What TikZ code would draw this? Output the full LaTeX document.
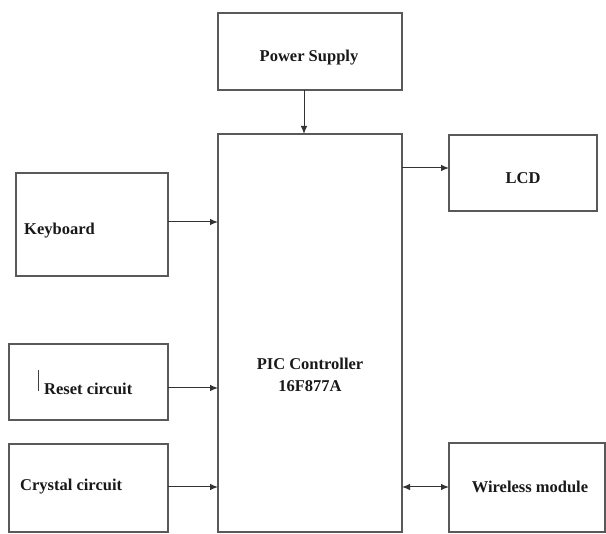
\documentclass[tikz,border=0pt]{standalone}
\usepackage{fontspec}
\setmainfont{Liberation Serif}
\usetikzlibrary{arrows.meta}
\tikzset{
  blk/.style={draw=black!65, line width=1.3pt, fill=white},
  lbl/.style={font=\fontsize{16.5}{20}\selectfont\bfseries, text=black!90, inner sep=0pt},
  conn/.style={draw=black!80, line width=1pt, -{Latex[length=8pt,width=6.5pt]}},
  conn2/.style={draw=black!80, line width=1pt, {Latex[length=8pt,width=6.5pt]}-{Latex[length=8pt,width=6.5pt]}}
}
\begin{document}
\begin{tikzpicture}[x=1pt,y=-1pt]
\path[use as bounding box] (0,0) rectangle (606,534);
% boxes
\draw[blk] (218,13) rectangle (402,90);
\draw[blk] (218,134) rectangle (402,532);
\draw[blk] (449,135) rectangle (597,211);
\draw[blk] (16,173) rectangle (168,276);
\draw[blk] (9,344) rectangle (168,420);
\draw[blk] (9,444) rectangle (168,532);
\draw[blk] (449,443) rectangle (605,532);
% labels
\node[lbl] (ps) at (309,58) {Power Supply};
\node[lbl] (lcd) at (523,178) {LCD};
\node[lbl, anchor=west] (kb) at (24,231) {Keyboard};
\node[lbl, anchor=west] (rst) at (44,389) {Reset circuit};
\draw[black!75, line width=0.9pt] (38,370) -- (38,391);
\node[lbl, anchor=west] (xtal) at (20,487) {Crystal circuit};
\node[lbl] (wm) at (530,487) {Wireless module};
\node[lbl, align=center] (pic) at (310,375) {PIC Controller\\[2pt]16F877A};
% connectors
\coordinate (psB) at (304,90);
\coordinate (picT) at (304,134);
\draw[conn] (psB) -- (picT);
\coordinate (lcdA) at (402,168);
\coordinate (lcdB) at (449,168);
\draw[conn] (lcdA) -- (lcdB);
\coordinate (kbA) at (168,222);
\coordinate (kbB) at (218,222);
\draw[conn] (kbA) -- (kbB);
\coordinate (rsA) at (168,388);
\coordinate (rsB) at (218,388);
\draw[conn] (rsA) -- (rsB);
\coordinate (xA) at (168,487);
\coordinate (xB) at (218,487);
\draw[conn] (xA) -- (xB);
\coordinate (wA) at (402,487);
\coordinate (wB) at (449,487);
\draw[conn2] (wA) -- (wB);
\end{tikzpicture}
\end{document}
